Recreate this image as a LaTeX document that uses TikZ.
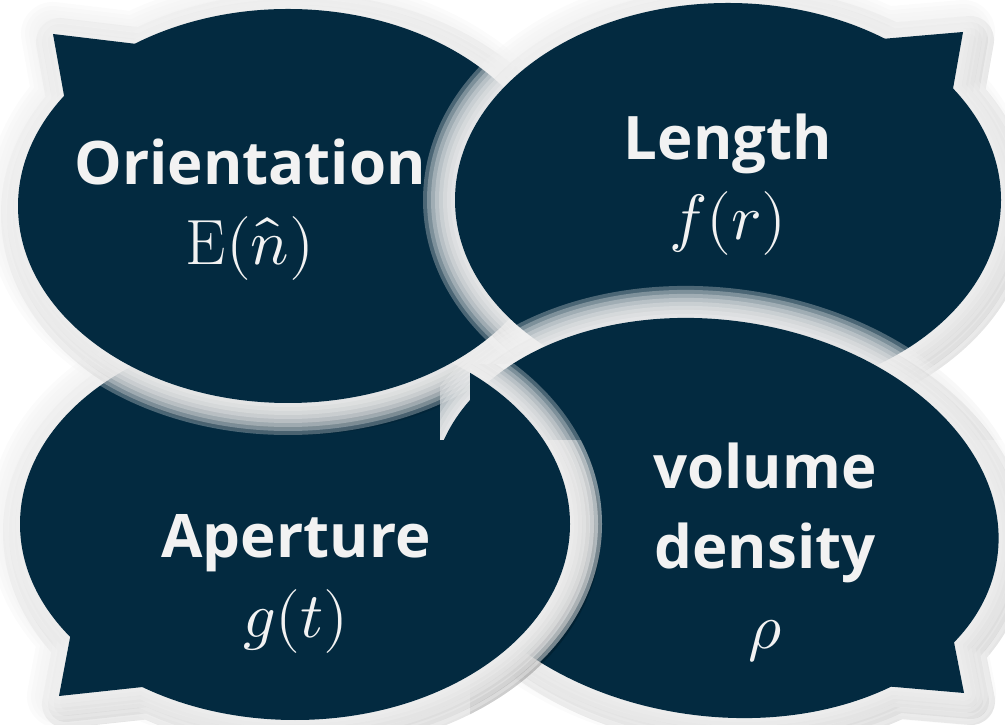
\documentclass[tikz,border=0pt]{standalone}
\usepackage{fontspec}
\usepackage{unicode-math}
\setmathfont{Latin Modern Math}
\newfontfamily\bubblefont{Open Sans}
\definecolor{bubblenavy}{RGB}{3,42,64}
\definecolor{bubbletext}{RGB}{242,242,242}

% body and tail of each bubble
\newcommand{\orientbody}{(288,-206) ellipse [x radius=270, y radius=197]}
\newcommand{\orienttail}{(65,-101) -- (53,-34) -- (145,-45) -- cycle}
\newcommand{\lengthbody}{(728,-200) ellipse [x radius=273, y radius=197]}
\newcommand{\lengthtail}{(870,-40) -- (963,-32) -- (951,-100) -- cycle}
\newcommand{\aperturebody}{(295,-524) ellipse [x radius=275, y radius=196]}
\newcommand{\aperturetail}{(73,-622) -- (59,-696) -- (152,-686) -- cycle}
\newcommand{\densitybody}{(715,-518) ellipse [x radius=285, y radius=198, rotate=-8]}
\newcommand{\densitytail}{(950,-622) -- (964,-693) -- (872,-685) -- cycle}

% shadow, soft light halo, then the navy body
\newcommand{\drawbubble}[2]{%
  \fill[dropshadow] #1 #2;
  \foreach \w in {3pt,6pt,9pt,12pt}
    \draw[dropshadow, line width=\w] #1 #2;
  \foreach \w in {16pt,14pt,12pt,10pt,8pt,6pt,4pt,2pt}
    \draw[halo, line width=\w] #1 #2;
  \fill[bubble] #1;
  \fill[bubble] #2;
}
\newcommand{\mathline}[1]{{\fontsize{16}{20}\selectfont$#1$}}

\begin{document}
\begin{tikzpicture}[
        x=0.25pt, y=0.25pt,
        bubble/.style={fill=bubblenavy},
        halo/.style={draw=gray!10, draw opacity=0.3, line join=round},
        dropshadow/.style={black, fill opacity=0.1, draw opacity=0.1,
                           line join=round, shift={(7,-8)}},
        label/.style={
            text=bubbletext,
            align=center,
            font=\bubblefont\bfseries\fontsize{15}{20}\selectfont
        }
    ]
    \useasboundingbox (0,0) rectangle (1005,-725);

    \drawbubble{\densitybody}{\densitytail}
    \drawbubble{\aperturebody}{\aperturetail}
    \drawbubble{\orientbody}{\orienttail}
    \drawbubble{\lengthbody}{\lengthtail}

    % density bubble lies over the length bubble ...
    \begin{scope}
        \clip (440,0) rectangle (1005,-440);
        \drawbubble{\densitybody}{\densitytail}
    \end{scope}
    % ... and under the aperture bubble again
    \begin{scope}
        \clip (470,-365) rectangle (640,-725);
        \drawbubble{\aperturebody}{\aperturetail}
    \end{scope}

    \node[label] (orient)   at (250,-210) {Orientation\\\mathline{\mathrm{E}(\hat{n})}};
    \node[label] (length)   at (728,-185) {Length\\\mathline{f(r)}};
    \node[label] (aperture) at (296,-584) {Aperture\\\mathline{g(t)}};
    \node[label] (density)  at (765,-553) {volume\\density\\\mathline{\rho}};

\end{tikzpicture}
\end{document}
